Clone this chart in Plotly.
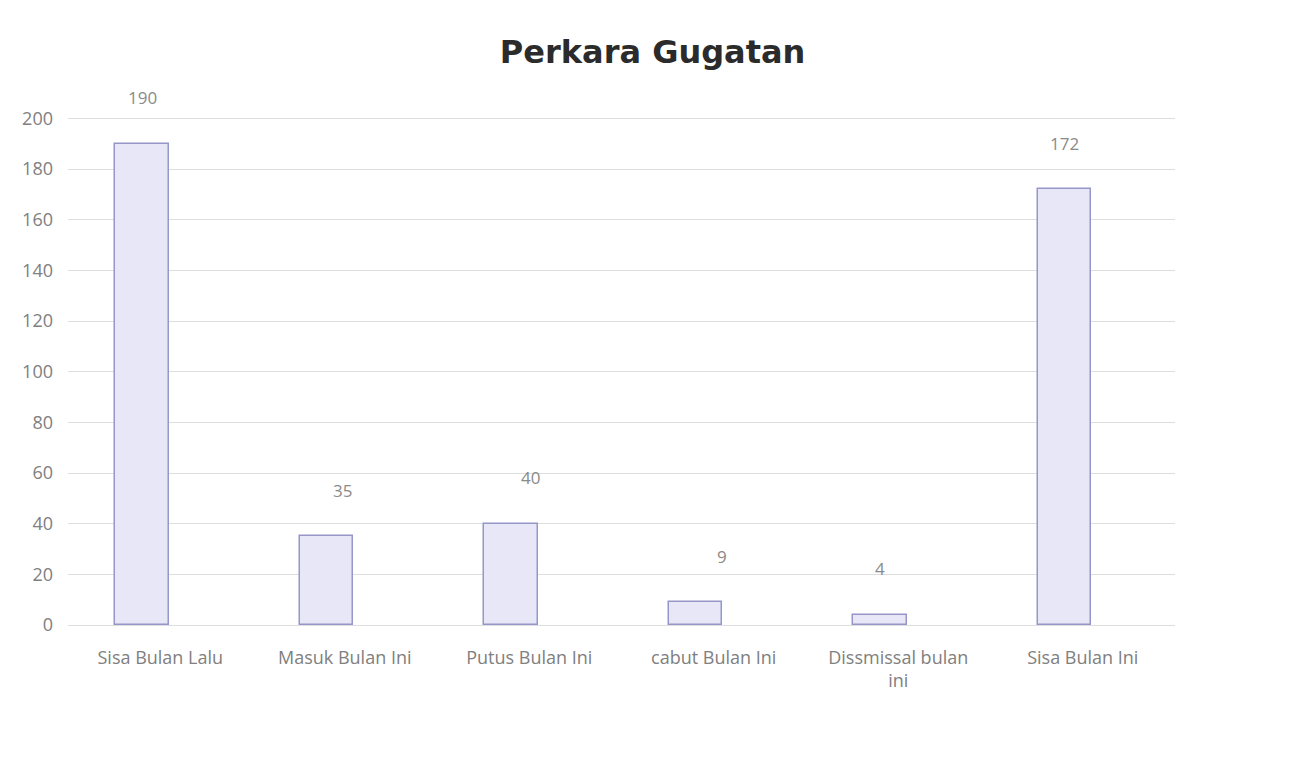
import plotly.graph_objects as go

categories = ["Sisa Bulan Lalu", "Masuk Bulan Ini", "Putus Bulan Ini", "cabut Bulan Ini",
              "Dissmissal bulan<br>ini", "Sisa Bulan Ini"]
values = [190, 35, 40, 9, 4, 172]
label_xshift = [0, 16, 19, 26, 0, 0]
y_ticks = list(range(0, 201, 20))

fig = go.Figure()
fig.add_trace(go.Bar(
    x=categories, y=values,
    width=0.29, offset=-0.245,
    marker=dict(color="#e7e7f7", line=dict(color="#9696c8", width=1.5)),
    showlegend=False,
))

for c, v, dx in zip(categories, values, label_xshift):
    fig.add_annotation(x=c, y=v, text=str(v), showarrow=False, yshift=46, xshift=dx - 18,
                       font=dict(family="Open Sans, sans-serif", size=17, color="#8a8a8a"))

fig.update_layout(
    width=1279, height=757,
    paper_bgcolor="white", plot_bgcolor="white",
    margin=dict(l=60, r=112, t=109, b=140, autoexpand=False),
    title=dict(text="<b>Perkara Gugatan</b>", x=0.504, xanchor="center", y=0.942, yanchor="middle",
               font=dict(family="DejaVu Sans, sans-serif", size=32, color="#2b2b2b")),
    bargap=0,
)
fig.update_xaxes(showline=False, ticks="", automargin=False, ticklabelstandoff=20,
                 tickfont=dict(family="Open Sans, sans-serif", size=18, color="#808080"),
                 showgrid=False)
fig.update_yaxes(range=[0, 200.6], tickvals=y_ticks, showgrid=True, gridcolor="#dedede", gridwidth=1,
                 zeroline=True, zerolinecolor="#dedede", zerolinewidth=1, showline=False, ticks="",
                 automargin=False,
                 tickfont=dict(family="Open Sans, sans-serif", size=18, color="#808080"), ticklabelstandoff=14)

fig.write_html("out.html")
